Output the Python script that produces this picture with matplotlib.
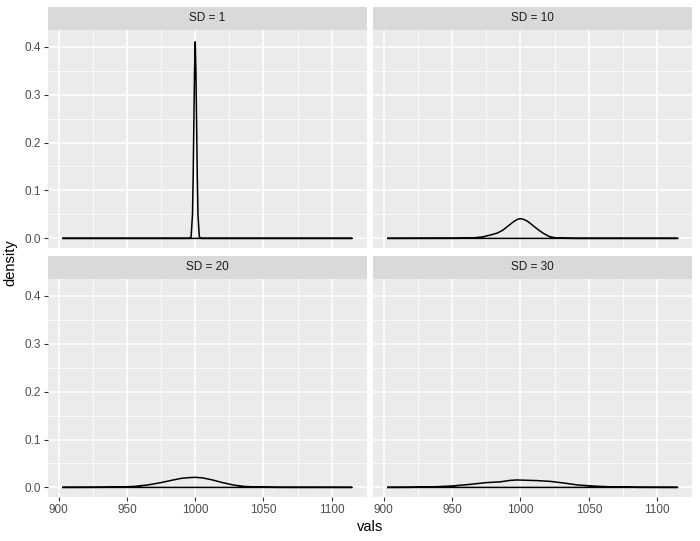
import numpy as np
import matplotlib
matplotlib.use("Agg")
import matplotlib.pyplot as plt

plt.rcParams["font.family"] = ["Liberation Sans", "DejaVu Sans"]

# facet labels
panels = ["SD = 1", "SD = 10", "SD = 20", "SD = 30"]

# density curves (x = vals, y = density)
sd1_x = [903, 996, 997, 998, 998.5, 999, 999.5, 1000, 1000.5, 1001, 1001.5, 1002, 1003, 1004, 1115]
sd1_y = [0.0, 0.0, 0.004, 0.05, 0.13, 0.24, 0.35, 0.41, 0.35, 0.24, 0.13, 0.05, 0.004, 0.0, 0.0]

sd10_x = [903, 955, 965, 972, 978, 983, 987, 991, 995, 998, 1000, 1002, 1005, 1009, 1013, 1017, 1021, 1025, 1030, 1040, 1115]
sd10_y = [0.0, 0.0002, 0.001, 0.003, 0.007, 0.011, 0.017, 0.026, 0.035, 0.040, 0.041, 0.040, 0.036, 0.027, 0.018, 0.010, 0.004, 0.0015, 0.0004, 0.0, 0.0]

sd20_x = [903, 930, 945, 955, 965, 975, 983, 990, 996, 1000, 1005, 1012, 1020, 1028, 1036, 1045, 1060, 1115]
sd20_y = [0.0, 0.0002, 0.0008, 0.002, 0.005, 0.010, 0.015, 0.019, 0.0205, 0.021, 0.020, 0.016, 0.010, 0.005, 0.002, 0.0007, 0.0001, 0.0]

sd30_x = [903, 920, 935, 950, 962, 975, 985, 992, 997, 1003, 1012, 1022, 1032, 1042, 1055, 1068, 1085, 1115]
sd30_y = [0.0, 0.0002, 0.001, 0.003, 0.006, 0.010, 0.0115, 0.0145, 0.0155, 0.015, 0.0142, 0.0125, 0.009, 0.005, 0.0025, 0.001, 0.0002, 0.0]

curves = [(sd1_x, sd1_y), (sd10_x, sd10_y), (sd20_x, sd20_y), (sd30_x, sd30_y)]

x_ticks = [900, 950, 1000, 1050, 1100]
y_ticks = [0.0, 0.1, 0.2, 0.3, 0.4]

W, H = 700, 541
fig = plt.figure(figsize=(W / 100, H / 100), dpi=100)

# panel boxes in pixels: (left, right), (top, bottom)
cols = [(48.3, 366.7), (373.3, 692.3)]
rows = [(30, 248.3), (279.3, 497.3)]
strip_h = 23

xlim = (892.3, 1125.7)
ylim = (-0.0207, 0.4347)

for i, (name, (cx, cy)) in enumerate(zip(panels, curves)):
    r, c = divmod(i, 2)
    l, rt = cols[c]
    t, b = rows[r]
    ax = fig.add_axes([l / W, 1 - b / H, (rt - l) / W, (b - t) / H])
    ax.set_facecolor("#EBEBEB")
    ax.set_xlim(*xlim)
    ax.set_ylim(*ylim)
    ax.set_xticks(x_ticks)
    ax.set_yticks(y_ticks)
    ax.set_xticks([925, 975, 1025, 1075], minor=True)
    ax.set_yticks([0.05, 0.15, 0.25, 0.35], minor=True)
    ax.grid(which="major", color="white", linewidth=1.1)
    ax.grid(which="minor", color="white", linewidth=0.55)
    ax.set_axisbelow(True)
    for s in ax.spines.values():
        s.set_visible(False)
    ax.tick_params(which="major", length=3, width=0.8, color="#333333",
                   labelsize=8.5, labelcolor="#4D4D4D", pad=2)
    ax.tick_params(which="minor", length=0)
    if r == 0:
        ax.tick_params(axis="x", which="both", labelbottom=False, length=0)
    if c == 1:
        ax.tick_params(axis="y", which="both", labelleft=False, length=0)
    # polygon outline like geom_density (curve + baseline)
    px = list(cx) + [cx[-1], cx[0], cx[0]]
    py = list(cy) + [0.0, 0.0, cy[0]]
    ax.plot(px, py, color="black", linewidth=1.1, solid_joinstyle="round")

    sax = fig.add_axes([l / W, 1 - (t - 0.3) / H, (rt - l) / W, strip_h / H])
    sax.set_facecolor("#D9D9D9")
    sax.set_xticks([])
    sax.set_yticks([])
    for s in sax.spines.values():
        s.set_visible(False)
    sax.text(0.5, 0.5, name, ha="center", va="center", fontsize=8.5,
             color="#1A1A1A", transform=sax.transAxes)

fig.text(370 / W, 1 - 527 / H, "vals", ha="center", va="center", fontsize=10.5, color="black")
fig.text(10 / W, 1 - 263 / H, "density", ha="center", va="center", rotation=90,
         fontsize=10.5, color="black")

fig.savefig("out.png", dpi=100, facecolor="white")
